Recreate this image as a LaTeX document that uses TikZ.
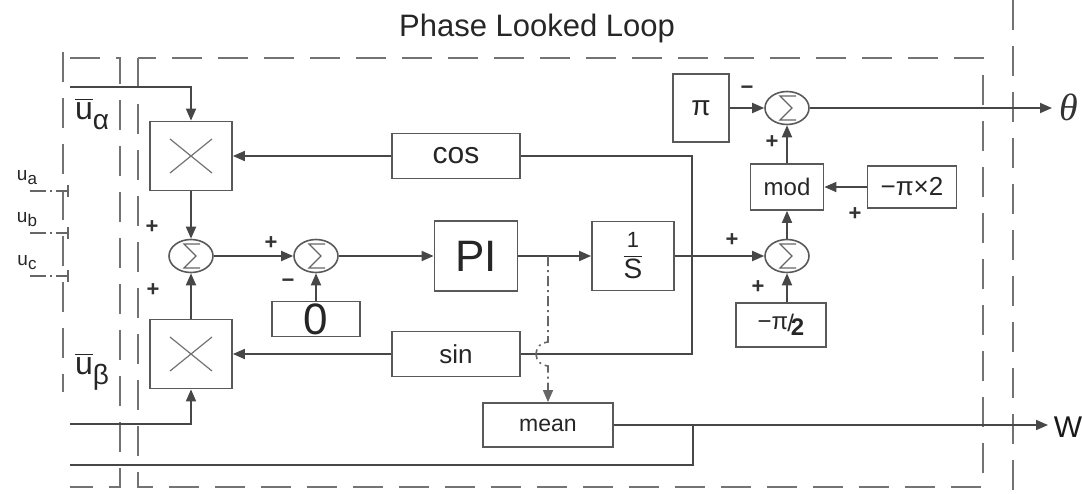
\documentclass[tikz,border=0pt]{standalone}
\usepackage{fontspec}
\setmainfont{Liberation Sans}
\newfontfamily\serifit{Liberation Serif}
\usetikzlibrary{arrows.meta,shapes.geometric}
\newcommand{\fsz}[1]{\fontsize{#1}{#1}\selectfont}
\begin{document}
\begin{tikzpicture}[x=0.5pt,y=-0.5pt,
  ln/.style={draw=black!72, line width=0.9pt},
  arr/.style={ln, -{Triangle[length=6pt,width=5pt]}},
  blk/.style={draw=black!65, line width=0.9pt, fill=white, inner sep=0pt, text=black!85},
  sumn/.style={ellipse, draw=black!65, line width=0.8pt, minimum width=22pt, minimum height=16.5pt, inner sep=0pt,
    path picture={\draw[black!60, line width=0.6pt, line join=miter]
      ([shift={(4.5pt,6pt)}]path picture bounding box.center) -- ++(-8pt,0pt) -- ++(6pt,-6pt) -- ++(-6pt,-6pt) -- ++(8pt,0pt);}},
  mul/.style={blk, minimum width=41pt, minimum height=34.5pt,
    path picture={\draw[black!55, line width=0.6pt]
      ([shift={(-10.5pt,-8.5pt)}]path picture bounding box.center) -- ([shift={(10.5pt,8.5pt)}]path picture bounding box.center)
      ([shift={(-10.5pt,8.5pt)}]path picture bounding box.center) -- ([shift={(10.5pt,-8.5pt)}]path picture bounding box.center);}},
  dbox/.style={draw=black!55, line width=1pt, dash pattern=on 15pt off 8pt},
  ddot/.style={draw=black!60, line width=0.8pt, dash pattern=on 5pt off 2pt on 1pt off 2pt},
  sgn/.style={font=\bfseries\fsz{11}, inner sep=0pt, text=black!80},
]
\useasboundingbox (0,0) rectangle (1082,493);

% dashed frames
\draw[dbox] (70,58) -- (120,58) -- (120,487) -- (70,487);
\draw[dbox] (138,58) rectangle (983,487);
\draw[dbox] (63,52) -- (63,392);
\draw[dbox] (1013,0) -- (1013,493);

\node[font=\fsz{15.5}, text=black!85] (title) at (537,28) {Phase Looked Loop};

% blocks
\node[mul] (mA) at (191,156) {};
\node[mul] (mB) at (191,354) {};
\node[sumn] (s1) at (191,256) {};
\node[sumn] (s2) at (316,256) {};
\node[blk, minimum width=44pt, minimum height=17.5pt, font=\fsz{22}] (zero) at (316,319) {0};
\node[blk, minimum width=64pt, minimum height=22.5pt, font=\fsz{15}] (cos) at (456,156) {cos};
\node[blk, minimum width=64pt, minimum height=22.5pt, font=\fsz{13}] (sin) at (456,354) {sin};
\node[blk, minimum width=41.5pt, minimum height=35pt, font=\fsz{22}] (pi) at (476,256) {PI};
\node[blk, minimum width=41pt, minimum height=34.5pt] (inv) at (633,256) {$\displaystyle\frac{\hbox{\fsz{11}1}}{\hbox{\fsz{14}S}}$};
\node[blk, minimum width=28pt, minimum height=34pt, font=\fsz{14}] (pib) at (701,108) {π};
\node[sumn] (sT) at (787,108) {};
\node[blk, minimum width=36.5pt, minimum height=23pt, font=\fsz{12}] (mod) at (787,187) {mod};
\node[blk, minimum width=44.5pt, minimum height=21pt, font=\fsz{13}] (p2) at (912,187) {−π×2};
\node[sumn] (sR) at (787,256) {};
\node[blk, minimum width=45pt, minimum height=22pt, font=\fsz{12}] (mp2) at (781,325) {−π\kern-0.5pt\raisebox{-1pt}{/}\kern-1.5pt\raisebox{-3pt}{\bfseries 2}};
\node[blk, minimum width=65pt, minimum height=22pt, font=\fsz{11.5}] (mean) at (548,425) {mean};

% coordinates
\coordinate (inA) at (70,87);
\coordinate (inB) at (70,424);
\coordinate (J) at (692,256);
\coordinate (br) at (548,256);
\coordinate (hop) at (548,342);
\coordinate (th) at (1052,108);
\coordinate (wout) at (1048,425);
\coordinate (mb) at (693,425);
\coordinate (fb) at (70,465);

% connectors
\draw[arr] (inA) -| (mA.north);
\draw[arr] (inB) -| (mB.south);
\draw[arr] (mA) -- (s1);
\draw[arr] (mB) -- (s1);
\draw[arr] (s1) -- (s2);
\draw[arr] (zero) -- (s2);
\draw[arr] (s2) -- (pi);
\draw[arr] (pi) -- (inv);
\draw[ln] (inv) -- (J);
\draw[arr] (J) -- (sR);
\draw[ln] (J) |- (cos.east);
\draw[ln] (J) |- (sin.east);
\draw[arr] (cos) -- (mA);
\draw[arr] (sin) -- (mB);
\draw[arr] (mp2.north -| sR) -- (sR);
\draw[arr] (sR) -- (mod);
\draw[arr] (p2) -- (mod);
\draw[arr] (mod) -- (sT);
\draw[arr] (pib) -- (sT);
\draw[arr] (sT) -- (th);
\draw[arr] (mean) -- (wout);
\draw[ln] (mb) |- (fb);
\draw[ddot, -{Triangle[length=6pt,width=5pt]}] (br) -- (hop) arc[start angle=90, end angle=270, radius=6pt] -- (mean.north);

% signs
\node[sgn] (g1) at (152,227) {+};
\node[sgn] (g2) at (153,290) {+};
\node[sgn] (g3) at (271,243) {+};
\node[sgn] (g4) at (288,283) {−};
\node[sgn] (g5) at (747,90) {−};
\node[sgn] (g6) at (772,142) {+};
\node[sgn] (g7) at (855,214) {+};
\node[sgn] (g8) at (732,240) {+};
\node[sgn] (g9) at (758,287) {+};

% input labels
\foreach \yy/\l in {191/a,233/b,276/c}{
  \draw[black!60, line width=0.8pt, dash pattern=on 8pt off 2pt on 1pt off 2pt] (30,\yy) -- (68,\yy);
  \draw[black!60, line width=0.8pt] (68,\yy-6) -- (68,\yy+6);
  \node[font=\fsz{9.5}, text=black!85, inner sep=0pt] (u\l) at (27,\yy-13) {u\raisebox{-2pt}{\fsz{8.5}\l}};
}
\node[font=\fsz{16}, text=black!85, inner sep=0pt] (ualpha) at (92,114) {$\overline{\hbox{u}}$\raisebox{-5pt}{\fsz{14}α}};
\node[font=\fsz{16}, text=black!85, inner sep=0pt] (ubeta) at (92,372) {$\overline{\hbox{u}}$\raisebox{-5pt}{\fsz{14}β}};

\node[font=\serifit\itshape\fsz{19}, text=black!80, inner sep=0pt] (theta) at (1069,107) {θ};
\node[font=\fsz{15}, text=black!90, inner sep=0pt] (W) at (1068,427) {W};
\end{tikzpicture}
\end{document}
